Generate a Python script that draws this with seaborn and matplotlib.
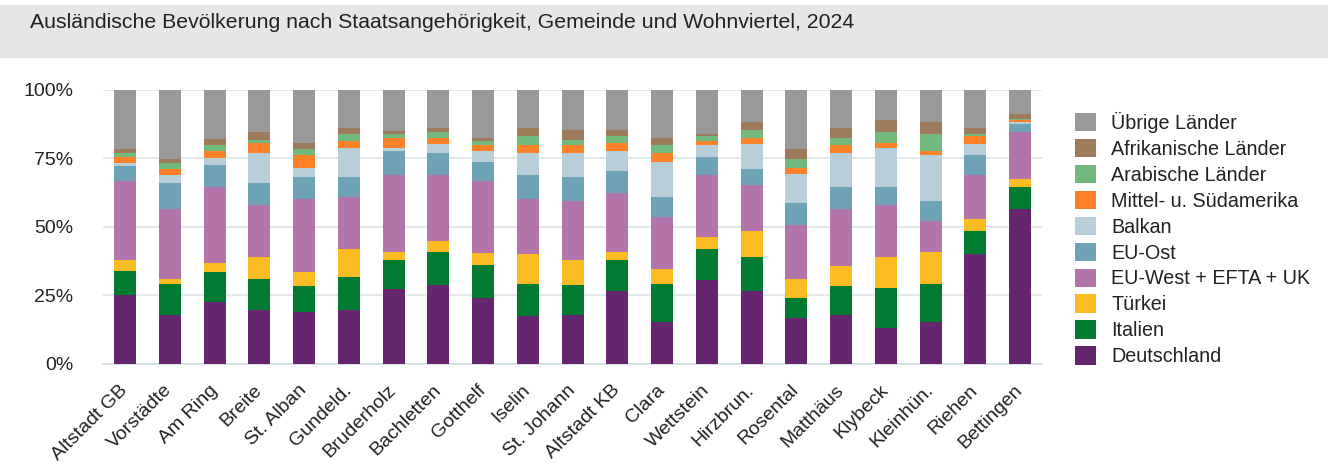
import numpy as np
import pandas as pd
import matplotlib
matplotlib.use("Agg")
import matplotlib.pyplot as plt
from matplotlib.patches import Patch, Rectangle
from matplotlib.ticker import PercentFormatter
import seaborn as sns

# Wohnviertel / Gemeinden
areas = ["Altstadt GB", "Vorstädte", "Am Ring", "Breite", "St. Alban", "Gundeld.",
         "Bruderholz", "Bachletten", "Gotthelf", "Iselin", "St. Johann", "Altstadt KB",
         "Clara", "Wettstein", "Hirzbrun.", "Rosental", "Matthäus", "Klybeck",
         "Kleinhün.", "Riehen", "Bettingen"]

# Anteile in %, bottom to top
deutschland = [25.3, 18.0, 22.5, 19.6, 18.9, 19.6, 27.5, 29.0, 24.0, 17.4, 18.0,
               26.8, 15.3, 30.5, 26.8, 16.7, 18.0, 13.2, 15.3, 40.0, 56.6]
italien = [8.8, 11.1, 11.0, 11.6, 9.5, 12.3, 10.3, 11.7, 12.3, 11.7, 11.0,
           11.0, 13.8, 11.5, 12.3, 7.3, 10.4, 14.4, 13.8, 8.6, 8.0]
tuerkei = [3.7, 2.1, 3.5, 8.0, 5.0, 10.2, 2.9, 4.2, 4.3, 10.9, 8.8,
           2.9, 5.7, 4.4, 9.5, 7.2, 7.2, 11.6, 11.6, 4.4, 2.8]
eu_west = [28.9, 25.4, 27.6, 18.8, 26.9, 18.9, 28.1, 23.9, 26.1, 20.3, 21.6,
           21.7, 18.8, 22.4, 16.7, 19.6, 21.0, 18.8, 11.6, 15.8, 17.4]
eu_ost = [5.5, 9.4, 7.9, 8.0, 7.8, 7.1, 8.8, 8.1, 7.2, 8.5, 8.7,
          7.9, 7.3, 6.6, 5.7, 7.9, 8.0, 6.6, 7.1, 7.3, 2.9]
balkan = [1.2, 2.8, 2.7, 10.9, 3.6, 10.8, 1.3, 3.5, 3.7, 8.1, 8.8,
          7.3, 13.0, 4.4, 9.4, 10.8, 12.3, 14.4, 16.7, 4.3, 0.7]
mittel_sued = [2.1, 2.5, 2.4, 3.6, 4.4, 2.3, 3.7, 2.2, 2.2, 2.9, 2.9,
               2.9, 3.0, 1.6, 2.2, 2.2, 2.9, 1.5, 1.5, 2.9, 0.8]
arabisch = [1.4, 1.9, 2.2, 1.4, 2.2, 2.8, 1.4, 2.2, 1.4, 3.5, 2.1,
            2.8, 2.9, 1.9, 2.9, 3.0, 2.8, 4.3, 6.4, 0.7, 0.2]
afrika = [1.4, 1.5, 2.2, 2.9, 2.2, 2.2, 0.9, 1.4, 1.4, 2.9, 3.5,
          2.2, 2.8, 0.7, 2.9, 3.6, 3.6, 4.4, 4.4, 2.2, 2.0]
uebrige = [21.7, 25.3, 18.0, 15.2, 19.5, 13.8, 15.1, 13.8, 17.4, 13.8, 14.6,
           14.5, 17.4, 16.0, 11.6, 21.7, 13.8, 10.8, 11.6, 13.8, 8.6]

groups = ["Deutschland", "Italien", "Türkei", "EU-West + EFTA + UK", "EU-Ost",
          "Balkan", "Mittel- u. Südamerika", "Arabische Länder",
          "Afrikanische Länder", "Übrige Länder"]
series = [deutschland, italien, tuerkei, eu_west, eu_ost, balkan,
          mittel_sued, arabisch, afrika, uebrige]
colors = ["#65266f", "#017a32", "#fbbc23", "#b274a9", "#6ea2b6",
          "#b8ced8", "#fc8128", "#73b87c", "#9d7b5b", "#999999"]

df = pd.DataFrame(dict(zip(groups, series)), index=areas)

sns.set_theme(style="white")
plt.rcParams["font.family"] = ["Liberation Sans", "DejaVu Sans"]

fig = plt.figure(figsize=(13.28, 4.66), dpi=100)
ax = fig.add_axes([0.0773, 0.2189, 0.7077, 0.588])

# grey title band
fig.patches.append(Rectangle((0, 1 - 58 / 466), 1, 53 / 466, transform=fig.transFigure,
                             facecolor="#e6e6e6", edgecolor="none", zorder=0))
fig.text(30 / 1328, 1 - 23 / 466, "Ausländische Bevölkerung nach Staatsangehörigkeit, Gemeinde und Wohnviertel, 2024",
         fontsize=15.3, color="#222222", va="center", ha="left")

bottom = np.zeros(len(areas))
for grp, col in zip(groups, colors):
    sns.barplot(x=areas, y=df[grp].values, bottom=bottom, color=col, width=0.49,
                linewidth=0, saturation=1, ax=ax, zorder=3)
    bottom = bottom + df[grp].values

ax.set_ylim(0, 100)
ax.set_xlim(-0.5, len(areas) - 0.5)
ax.set_yticks([0, 25, 50, 75, 100])
ax.yaxis.set_major_formatter(PercentFormatter(decimals=0))
ax.grid(axis="y", color="#dbe5ea", linewidth=1.2, zorder=0)
ax.set_axisbelow(True)
for s in ["top", "right", "left"]:
    ax.spines[s].set_visible(False)
ax.spines["bottom"].set_color("#cfdde4")
ax.spines["bottom"].set_linewidth(1.2)
ax.tick_params(axis="y", length=0, pad=21, labelsize=14, labelcolor="#222222")
ax.tick_params(axis="x", length=0, pad=17, labelsize=14, labelcolor="#222222")
plt.setp(ax.get_xticklabels(), rotation=45, ha="right", va="center", rotation_mode="anchor")
ax.set_xlabel("")
ax.set_ylabel("")

handles = [Patch(facecolor=c, edgecolor="none") for c in colors][::-1]
fig.legend(handles, groups[::-1], loc="upper left", bbox_to_anchor=(1075 / 1328, 1 - 112 / 466),
           frameon=False, fontsize=14.2, handlelength=1.05, handleheight=1.05,
           handletextpad=0.78, labelspacing=0.305, borderpad=0, borderaxespad=0,
           labelcolor="#222222")

fig.savefig("out.png", dpi=100)
